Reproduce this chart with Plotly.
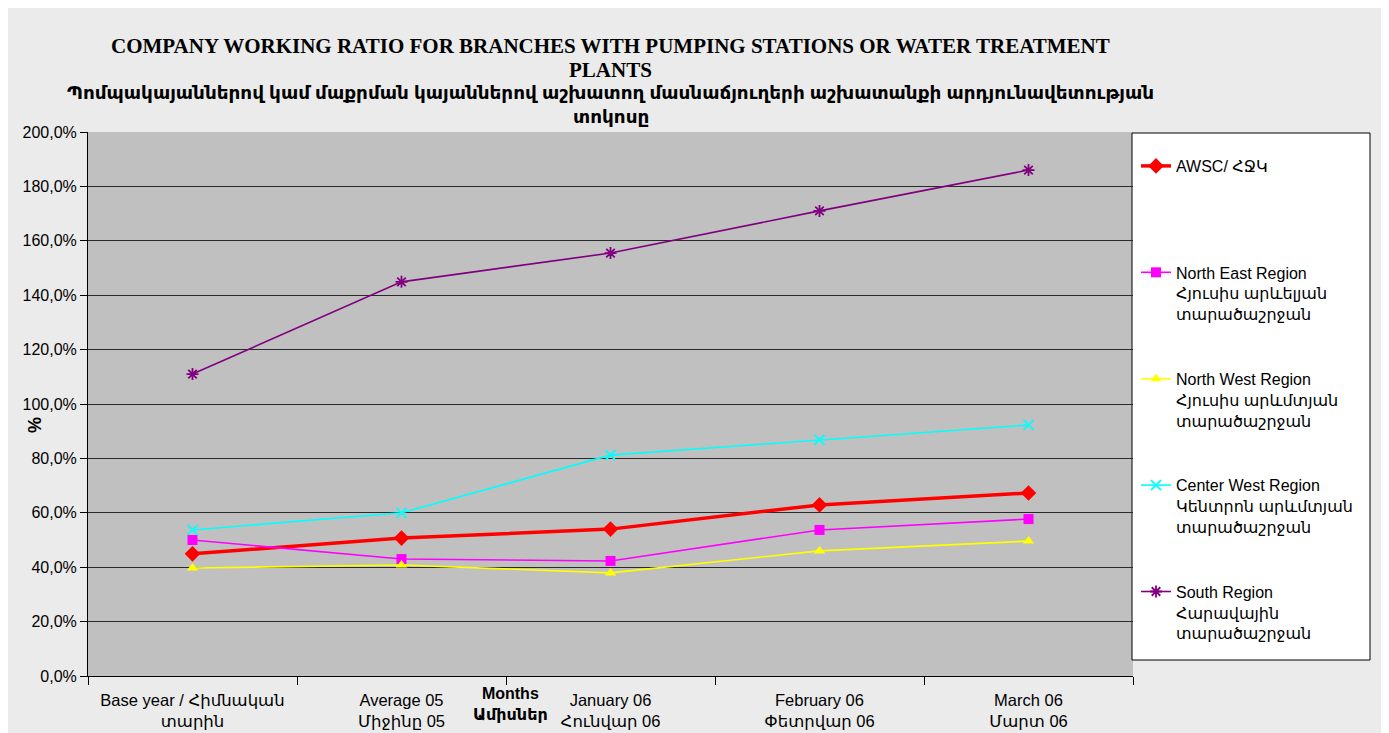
import plotly.graph_objects as go

categories = [
    "Base year / Հիմնական<br>տարին",
    "Average 05<br>Միջինը 05",
    "January 06<br>Հունվար 06",
    "February 06<br>Փետրվար 06",
    "March 06<br>Մարտ 06",
]

awsc = [44.9, 50.7, 54.0, 62.9, 67.3]
north_east = [50.0, 43.0, 42.3, 53.7, 57.7]
north_west = [39.7, 40.8, 37.9, 46.0, 49.6]
center_west = [53.7, 60.0, 81.2, 86.8, 92.3]
south = [111.0, 144.9, 155.5, 171.0, 186.0]

y_ticks = [0, 20, 40, 60, 80, 100, 120, 140, 160, 180, 200]
y_tick_text = [f"{v:.1f}%".replace(".", ",") for v in y_ticks]

series = [
    ("AWSC/ ՀՋԿ<br> <br> ", awsc, "#ff0000", 3.5, dict(symbol="diamond", size=12, color="#ff0000")),
    ("North East Region<br>Հյուսիս արևելյան<br>տարածաշրջան", north_east, "#ff00ff", 1.6,
     dict(symbol="square", size=10, color="#ff00ff")),
    ("North West Region<br>Հյուսիս արևմտյան<br>տարածաշրջան", north_west, "#ffff00", 1.6,
     dict(symbol="triangle-up", size=10, color="#ffff00")),
    ("Center West Region<br>Կենտրոն արևմտյան<br>տարածաշրջան", center_west, "#00ffff", 1.6,
     dict(symbol="x-thin-open", size=10, color="#00ffff", line=dict(color="#00ffff", width=1.8))),
    ("South Region<br>Հարավային<br>տարածաշրջան", south, "#800080", 1.6,
     dict(symbol="asterisk-open", size=10, color="#800080", line=dict(color="#800080", width=1.8))),
]

SANS = "Arial, Liberation Sans, DejaVu Sans, sans-serif"
SERIF = "Liberation Serif, Times New Roman, serif"

fig = go.Figure()
for i, (name, vals, color, lw, marker) in enumerate(series):
    fig.add_trace(go.Scatter(
        x=categories, y=vals, name=name, mode="lines+markers",
        line=dict(color=color, width=lw), marker=marker,
        legendgroup=f"g{i}",
    ))

# reference-image coordinates; page body has 8px margin
OFF = 8
L, R, T, B = 88, 1133, 132, 676
W, H = 1389 - OFF, 733 - OFF
pw, ph = R - L, B - T


def px(x):
    return (x - L) / pw


def py(y):
    return (B - y) / ph


fig.update_layout(
    width=W, height=H,
    margin=dict(l=L - OFF, r=W - (R - OFF), t=T - OFF, b=H - (B - OFF), pad=0, autoexpand=False),
    paper_bgcolor="#ebebeb",
    plot_bgcolor="#c0c0c0",
    showlegend=True,
    legend=dict(
        x=px(1136), y=py(149), xanchor="left", yanchor="top",
        bgcolor="rgba(0,0,0,0)", borderwidth=0,
        font=dict(family=SANS, size=16, color="#000000"),
        valign="top", tracegroupgap=41,
    ),
    font=dict(family=SANS, color="#000000"),
)

fig.update_xaxes(
    type="category", tickson="boundaries", ticks="outside", ticklen=8,
    tickcolor="#000000", showline=True, linecolor="#000000", linewidth=1,
    showgrid=False, tickfont=dict(family=SANS, size=16.5, color="#000000"),
    ticklabelstandoff=9, automargin=False,
    range=[-0.5, 4.5],
)
fig.update_yaxes(
    range=[0, 200], tickvals=y_ticks, ticktext=y_tick_text,
    ticks="outside", ticklen=7, tickcolor="#000000",
    showline=True, linecolor="#000000", linewidth=1,
    showgrid=True, gridcolor="#2a2a2a", gridwidth=1.3,
    tickfont=dict(family=SANS, size=16, color="#000000"),
    zeroline=False, automargin=False,
)

# legend box
fig.add_shape(type="rect", xref="paper", yref="paper",
              x0=px(1132), x1=px(1370), y0=py(660), y1=py(133),
              fillcolor="#ffffff", line=dict(color="#000000", width=1), layer="below")

title_lines = [
    ("<b>COMPANY WORKING RATIO FOR BRANCHES WITH PUMPING STATIONS OR WATER TREATMENT</b>", 46, SERIF, 21),
    ("<b>PLANTS</b>", 70, SERIF, 21),
    ("<b>Պոմպակայաններով կամ մաքրման կայաններով աշխատող մասնաճյուղերի աշխատանքի արդյունավետության</b>", 93, SANS, 18.4),
    ("<b>տոկոսը</b>", 116, SANS, 18.4),
]
for text, yc, fam, size in title_lines:
    fig.add_annotation(
        xref="paper", yref="paper", x=0.5, y=py(yc), xanchor="center", yanchor="middle",
        text=text, showarrow=False, font=dict(family=fam, size=size, color="#000000"),
    )

fig.add_annotation(
    xref="paper", yref="paper", x=px(35), y=py(425), xanchor="center", yanchor="middle",
    textangle=-90, text="<b>%</b>", showarrow=False,
    font=dict(family=SANS, size=18, color="#000000"),
)
fig.add_annotation(
    xref="paper", yref="paper", x=px(510), y=py(704), xanchor="center", yanchor="middle",
    text="<b>Months<br>Ամիսներ</b>", showarrow=False,
    font=dict(family=SANS, size=16, color="#000000"),
)

fig.write_html("out.html")
